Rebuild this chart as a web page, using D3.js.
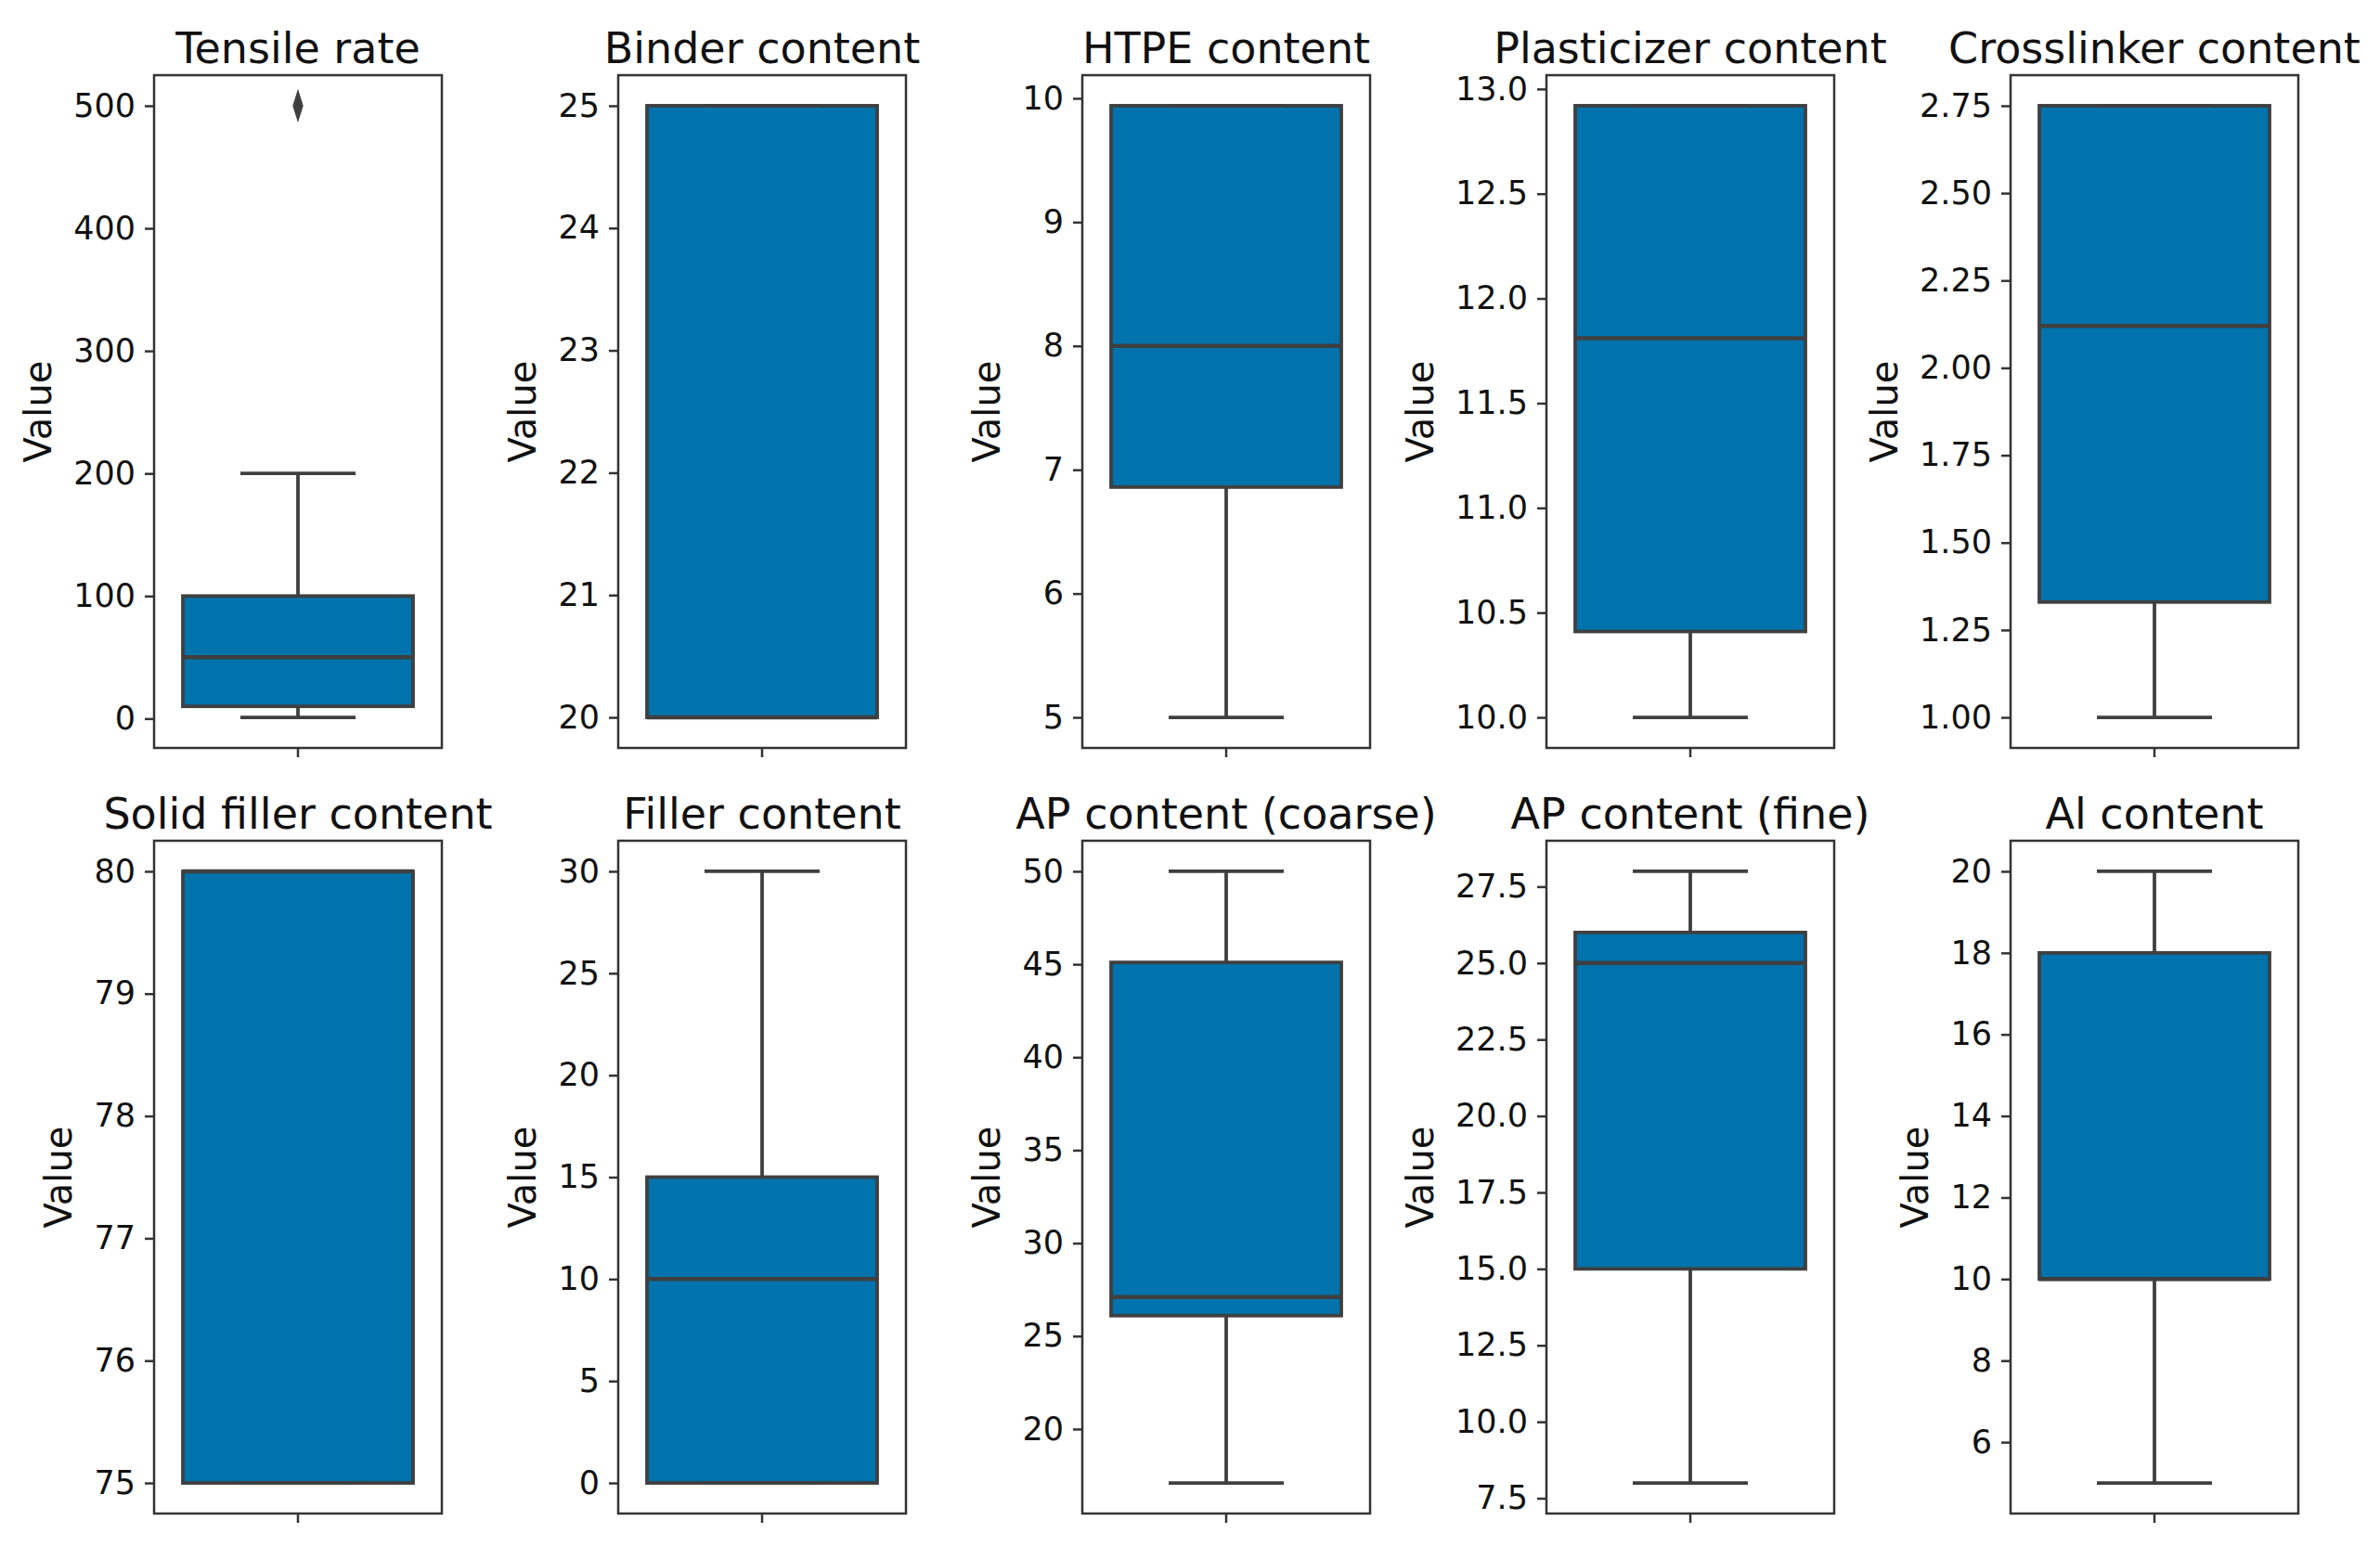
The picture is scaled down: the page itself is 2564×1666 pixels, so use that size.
<!DOCTYPE html>
<html>
<head>
<meta charset="utf-8">
<script src="https://cdnjs.cloudflare.com/ajax/libs/d3/7.8.5/d3.min.js"></script>
<style>
  html, body { margin: 0; padding: 0; background: #fff; }
  svg { display: block; font-family: "DejaVu Sans", sans-serif; }
</style>
</head>
<body>
<svg id="chart" width="2564" height="1666"></svg>
<script>
// box statistics, one entry per variable
const titles = ["Tensile rate", "Binder content", "HTPE content", "Plasticizer content", "Crosslinker content",
                "Solid filler content", "Filler content", "AP content (coarse)", "AP content (fine)", "Al content"];
const whiskerLow  = [1,   20, 5,    10,    1.00, 75, 0,  17.1, 8,  5];
const q1          = [10,  20, 6.86, 10.41, 1.33, 75, 0,  26.1, 15, 10];
const median      = [50,  20, 8,    11.81, 2.12, 80, 10, 27.1, 25, 10];
const q3          = [100, 25, 9.94, 12.92, 2.75, 80, 15, 45.1, 26, 18];
const whiskerHigh = [200, 25, 9.94, 12.92, 2.75, 80, 30, 50,   28, 20];
const outliers    = [[500], [], [], [], [], [], [], [], [], []];

const yTicks = [
  [0, 100, 200, 300, 400, 500],
  [20, 21, 22, 23, 24, 25],
  [5, 6, 7, 8, 9, 10],
  [10.0, 10.5, 11.0, 11.5, 12.0, 12.5, 13.0],
  [1.00, 1.25, 1.50, 1.75, 2.00, 2.25, 2.50, 2.75],
  [75, 76, 77, 78, 79, 80],
  [0, 5, 10, 15, 20, 25, 30],
  [20, 25, 30, 35, 40, 45, 50],
  [7.5, 10.0, 12.5, 15.0, 17.5, 20.0, 22.5, 25.0, 27.5],
  [6, 8, 10, 12, 14, 16, 18, 20]
];
const tickDecimals = [0, 0, 0, 1, 2, 0, 0, 0, 1, 0];

// layout
const nCols = 5;
const panelLeft0 = 166, panelStep = 500, panelW = 310;
const rowTops = [81, 906], panelH = 725;
const boxFill = "#0173ac", lineCol = "#3f3f3f", spineCol = "#333";
const lw = 3.8;

const svg = d3.select("#chart");
svg.append("rect").attr("width", 2564).attr("height", 1666).attr("fill", "#fff");

titles.forEach((title, i) => {
  const col = i % nCols, row = Math.floor(i / nCols);
  const x0 = panelLeft0 + col * panelStep, y0 = rowTops[row];
  const g = svg.append("g");

  const lo = d3.min([whiskerLow[i], ...outliers[i]]);
  const hi = d3.max([whiskerHigh[i], ...outliers[i]]);
  const pad = (hi - lo) * 0.05;
  const y = d3.scaleLinear().domain([lo - pad, hi + pad]).range([y0 + panelH, y0]);
  const x = d3.scaleLinear().domain([-0.5, 0.5]).range([x0, x0 + panelW]);

  // whiskers
  g.append("line").attr("x1", x(0)).attr("x2", x(0))
    .attr("y1", y(whiskerLow[i])).attr("y2", y(q1[i]))
    .attr("stroke", lineCol).attr("stroke-width", lw);
  g.append("line").attr("x1", x(0)).attr("x2", x(0))
    .attr("y1", y(q3[i])).attr("y2", y(whiskerHigh[i]))
    .attr("stroke", lineCol).attr("stroke-width", lw);

  // box
  g.append("rect")
    .attr("x", x(-0.4)).attr("width", x(0.4) - x(-0.4))
    .attr("y", y(q3[i])).attr("height", y(q1[i]) - y(q3[i]))
    .attr("fill", boxFill).attr("stroke", lineCol).attr("stroke-width", lw);

  // caps
  [whiskerLow[i], whiskerHigh[i]].forEach(v => {
    g.append("line").attr("x1", x(-0.2)).attr("x2", x(0.2))
      .attr("y1", y(v)).attr("y2", y(v))
      .attr("stroke", lineCol).attr("stroke-width", lw);
  });

  // median
  g.append("line").attr("x1", x(-0.4)).attr("x2", x(0.4))
    .attr("y1", y(median[i])).attr("y2", y(median[i]))
    .attr("stroke", lineCol).attr("stroke-width", 4.5);

  // fliers
  g.selectAll(".flier").data(outliers[i]).join("path")
    .attr("class", "flier")
    .attr("d", d3.symbol(d3.symbolDiamond, 260))
    .attr("transform", d => `translate(${x(0)},${y(d)}) scale(0.6,1.1)`)
    .attr("fill", lineCol).attr("stroke", lineCol).attr("stroke-width", 1.5);

  // frame
  g.append("rect").attr("x", x0).attr("y", y0).attr("width", panelW).attr("height", panelH)
    .attr("fill", "none").attr("stroke", spineCol).attr("stroke-width", 2.5);

  // y axis
  const fmt = d3.format("." + tickDecimals[i] + "f");
  const ax = g.append("g").attr("transform", `translate(${x0},0)`)
    .call(d3.axisLeft(y).tickValues(yTicks[i]).tickFormat(fmt).tickSize(10).tickPadding(10));
  ax.select(".domain").remove();
  ax.selectAll(".tick line").attr("stroke", spineCol).attr("stroke-width", 2.5);
  ax.selectAll(".tick text").attr("fill", "#111").style("font-size", "35px")
    .style("font-family", "'DejaVu Sans', sans-serif");

  // x tick (single category, unlabeled)
  g.append("line").attr("x1", x(0)).attr("x2", x(0))
    .attr("y1", y0 + panelH).attr("y2", y0 + panelH + 10)
    .attr("stroke", spineCol).attr("stroke-width", 2.5);

  // y label
  const labelsLeft = ax.node().getBBox().x + x0;
  g.append("text")
    .attr("transform", `translate(${labelsLeft - 24},${y0 + panelH / 2}) rotate(-90)`)
    .attr("text-anchor", "middle").attr("fill", "#111")
    .style("font-size", "40px").text("Value");

  // title
  g.append("text").attr("x", x0 + panelW / 2).attr("y", y0 - 13)
    .attr("text-anchor", "middle").attr("fill", "#111")
    .style("font-size", "46px").text(title);
});
</script>
</body>
</html>
